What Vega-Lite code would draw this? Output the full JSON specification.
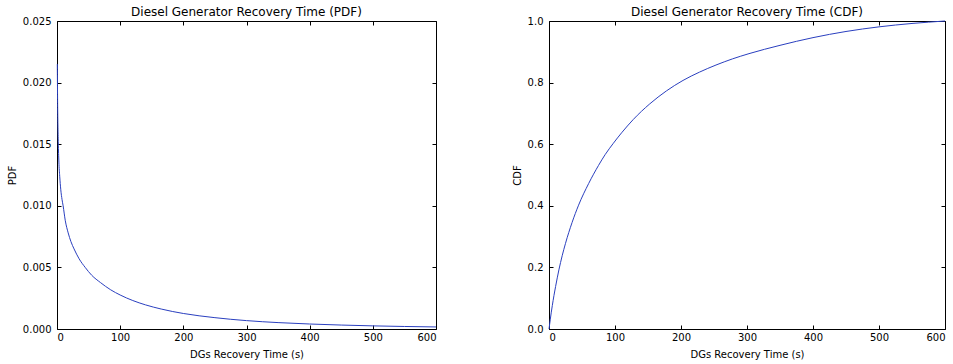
{
  "$schema": "https://vega.github.io/schema/vega-lite/v6.json",
  "padding": {"left": 6, "top": 5, "right": 0, "bottom": 0},
  "bounds": "flush",
  "spacing": 113,
  "background": "white",
  "datasets": {
    "pdf": [
      {"t": 0.5, "v": 0.0215}, {"t": 1, "v": 0.0183}, {"t": 2, "v": 0.0152}, {"t": 3, "v": 0.01355},
      {"t": 4.3, "v": 0.0124}, {"t": 6, "v": 0.0113}, {"t": 8, "v": 0.0105}, {"t": 9.7, "v": 0.0100},
      {"t": 13, "v": 0.00883}, {"t": 17.7, "v": 0.0078}, {"t": 22, "v": 0.0071}, {"t": 27, "v": 0.0065},
      {"t": 35, "v": 0.0057}, {"t": 44.6, "v": 0.0050}, {"t": 55, "v": 0.00436}, {"t": 68.8, "v": 0.00377},
      {"t": 85, "v": 0.00318}, {"t": 100, "v": 0.00276}, {"t": 120, "v": 0.00231}, {"t": 140, "v": 0.00196},
      {"t": 165, "v": 0.00162}, {"t": 200, "v": 0.00126}, {"t": 250, "v": 0.00092},
      {"t": 300, "v": 0.00068}, {"t": 350, "v": 0.00052}, {"t": 400, "v": 0.000405}, {"t": 450, "v": 0.00032},
      {"t": 500, "v": 0.000254}, {"t": 550, "v": 0.000205}, {"t": 600, "v": 0.000167}
    ],
    "cdf": [
      {"t": 0, "v": 0}, {"t": 2, "v": 0.032}, {"t": 5, "v": 0.076}, {"t": 10, "v": 0.138},
      {"t": 15, "v": 0.192}, {"t": 20, "v": 0.238}, {"t": 25, "v": 0.278}, {"t": 35, "v": 0.346},
      {"t": 44.8, "v": 0.402}, {"t": 60, "v": 0.472}, {"t": 75, "v": 0.531}, {"t": 85, "v": 0.566},
      {"t": 97.5, "v": 0.603}, {"t": 110, "v": 0.637}, {"t": 127.6, "v": 0.68}, {"t": 152.7, "v": 0.731},
      {"t": 177.9, "v": 0.773}, {"t": 203, "v": 0.807}, {"t": 228, "v": 0.834}, {"t": 253, "v": 0.857},
      {"t": 278, "v": 0.877}, {"t": 303, "v": 0.894}, {"t": 350, "v": 0.921}, {"t": 400, "v": 0.946},
      {"t": 450, "v": 0.966}, {"t": 500, "v": 0.981}, {"t": 550, "v": 0.992}, {"t": 600, "v": 1.0}
    ]
  },
  "config": {
    "view": {"stroke": "black", "strokeWidth": 1},
    "axis": {
      "grid": false, "domain": false, "tickSize": -4, "tickColor": "black", "tickWidth": 1,
      "labelFont": "DejaVu Sans", "labelFontSize": 10, "labelColor": "black",
      "titleFont": "DejaVu Sans", "titleFontSize": 10, "titleFontWeight": "normal", "titleColor": "black",
      "labelPadding": 10
    },
    "title": {"font": "DejaVu Sans", "fontSize": 12, "fontWeight": "normal", "color": "black", "anchor": "middle", "baseline": "alphabetic", "offset": -3}
  },
  "hconcat": [
    {
      "width": 379, "height": 308,
      "title": "Diesel Generator Recovery Time (PDF)",
      "data": {"name": "pdf"},
      "layer": [
        {
          "mark": {"type": "line", "color": "#2a3fbf", "strokeWidth": 1, "interpolate": "monotone"},
          "encoding": {
            "x": {"field": "t", "type": "quantitative", "scale": {"domain": [0, 600], "nice": false},
                  "axis": {"orient": "bottom", "values": [0, 100, 200, 300, 400, 500, 600], "title": "DGs Recovery Time (s)", "titlePadding": 7, "labelPadding": 7}},
            "y": {"field": "v", "type": "quantitative", "scale": {"domain": [0, 0.025], "nice": false},
                  "axis": {"orient": "left", "values": [0, 0.005, 0.01, 0.015, 0.02, 0.025], "format": ".3f", "title": "PDF", "titlePadding": 5}}
          }
        },
        {
          "mark": {"type": "line", "opacity": 0},
          "encoding": {
            "x": {"field": "t", "type": "quantitative", "scale": {"domain": [0, 600], "nice": false},
                  "axis": {"orient": "top", "values": [0, 100, 200, 300, 400, 500, 600], "labels": false, "title": null}},
            "y": {"field": "v", "type": "quantitative", "scale": {"domain": [0, 0.025], "nice": false},
                  "axis": {"orient": "right", "values": [0, 0.005, 0.01, 0.015, 0.02, 0.025], "labels": false, "title": null}}
          }
        }
      ],
      "resolve": {"axis": {"x": "independent", "y": "independent"}}
    },
    {
      "width": 396, "height": 308,
      "title": "Diesel Generator Recovery Time (CDF)",
      "data": {"name": "cdf"},
      "layer": [
        {
          "mark": {"type": "line", "color": "#2a3fbf", "strokeWidth": 1, "interpolate": "monotone"},
          "encoding": {
            "x": {"field": "t", "type": "quantitative", "scale": {"domain": [0, 600], "nice": false},
                  "axis": {"orient": "bottom", "values": [0, 100, 200, 300, 400, 500, 600], "title": "DGs Recovery Time (s)", "titlePadding": 7, "labelPadding": 7}},
            "y": {"field": "v", "type": "quantitative", "scale": {"domain": [0, 1], "nice": false},
                  "axis": {"orient": "left", "values": [0, 0.2, 0.4, 0.6, 0.8, 1.0], "format": ".1f", "title": "CDF", "titlePadding": 5}}
          }
        },
        {
          "mark": {"type": "line", "opacity": 0},
          "encoding": {
            "x": {"field": "t", "type": "quantitative", "scale": {"domain": [0, 600], "nice": false},
                  "axis": {"orient": "top", "values": [0, 100, 200, 300, 400, 500, 600], "labels": false, "title": null}},
            "y": {"field": "v", "type": "quantitative", "scale": {"domain": [0, 1], "nice": false},
                  "axis": {"orient": "right", "values": [0, 0.2, 0.4, 0.6, 0.8, 1.0], "labels": false, "title": null}}
          }
        }
      ],
      "resolve": {"axis": {"x": "independent", "y": "independent"}}
    }
  ]
}
